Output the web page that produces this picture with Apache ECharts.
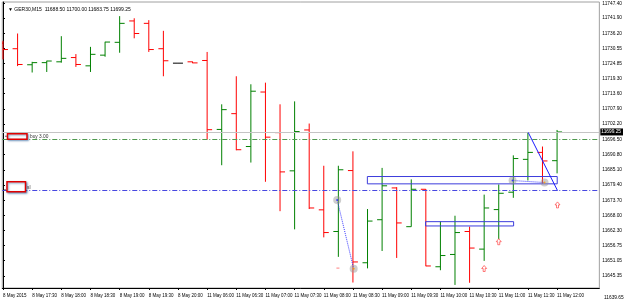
<!DOCTYPE html>
<html><head><meta charset="utf-8">
<script src="https://cdn.jsdelivr.net/npm/echarts@6/dist/echarts.min.js"></script>
<style>html,body{margin:0;padding:0;background:#fff}#c{width:625px;height:301px}</style>
</head><body><div id="c"></div>
<script>
const symbolName = 'GER30,M15';
const times = ['8 May 17:00','8 May 17:15','8 May 17:30','8 May 17:45','8 May 18:00','8 May 18:15','8 May 18:30','8 May 18:45','8 May 19:00','8 May 19:15','8 May 19:30','8 May 19:45','8 May 20:00','8 May 20:15',
 '11 May 06:00','11 May 06:15','11 May 06:30','11 May 06:45','11 May 07:00','11 May 07:15','11 May 07:30','11 May 07:45','11 May 08:00','11 May 08:15','11 May 08:30','11 May 08:45','11 May 09:00','11 May 09:15','11 May 09:30','11 May 09:45','11 May 10:00','11 May 10:15','11 May 10:30','11 May 10:45','11 May 11:00','11 May 11:15','11 May 11:30','11 May 11:45','11 May 12:00'];
const opens  = [11732.5,11730.4,11724.4,11725.2,11725.5,11727.1,11724.0,11728.0,11732.8,11740.8,11739.9,11730.4,11725.0,11725.5,11726.0,11700.2,11706.1,11693.8,11714.2,11699.0,11684.7,11700.0,11670.1,11662.0,11684.8,11650.3,11666.4,11678.3,11663.8,11677.8,11648.8,11653.4,11662.0,11655.4,11670.2,11676.7,11689.0,11691.6,11688.50];
const highs  = [11733.4,11736.1,11725.5,11725.9,11735.1,11728.4,11731.1,11733.0,11742.6,11741.8,11741.1,11737.1,11725.0,11725.6,11729.2,11709.6,11720.1,11717.1,11717.7,11709.6,11710.7,11702.4,11686.6,11686.6,11692.0,11670.4,11685.8,11678.6,11681.5,11677.9,11665.8,11667.9,11663.8,11675.8,11679.6,11690.5,11699.1,11693.8,11700.00];
const lows   = [11726.4,11723.9,11721.5,11721.7,11725.2,11723.6,11721.7,11727.4,11728.9,11734.3,11729.2,11720.1,11725.0,11725.0,11696.4,11686.8,11692.4,11687.8,11680.6,11669.6,11662.8,11670.4,11659.8,11652.5,11642.9,11648.2,11654.7,11652.1,11663.8,11649.0,11647.5,11642.0,11642.8,11651.0,11659.2,11674.6,11681.1,11679.9,11683.75];
const closes = [11730.1,11724.5,11725.2,11725.8,11726.8,11724.5,11728.3,11732.9,11739.9,11736.1,11730.1,11725.9,11725.0,11725.1,11700.1,11707.6,11692.6,11714.5,11697.3,11684.3,11699.4,11670.8,11661.6,11685.1,11650.6,11665.9,11679.1,11665.2,11677.8,11649.1,11653.0,11661.6,11655.8,11670.8,11676.3,11689.3,11691.6,11688.4,11699.25];
const xTickLabels = ['8 May 2015','8 May 17:30','8 May 18:00','8 May 18:30','8 May 19:00','8 May 19:30','8 May 20:00','11 May 06:00','11 May 06:30','11 May 07:00','11 May 07:30','11 May 08:00','11 May 08:30','11 May 09:00','11 May 09:30','11 May 10:00','11 May 10:30','11 May 11:00','11 May 11:30','11 May 12:00'];
const yTickLabels = [11747.40,11741.90,11736.20,11730.55,11724.85,11719.30,11713.60,11707.90,11702.20,11696.50,11690.80,11685.10,11679.40,11673.70,11668.00,11662.30,11656.75,11651.05,11645.35,11639.65];
const bidPrice = 11699.25;
const buyLevel = 11696.35;
const slLevel = 11677.58;
const rectZones = [[24.99,11682.57,38.01,11679.83],[28.98,11665.68,35.02,11664.07]];
const dottedA = [[22.92,11673.83],[24.05,11648.04]];
const dottedB = [[34.95,11681.07],[37.14,11680.32]];
const trendLine = [[36.02,11699.09],[38.03,11677.32]];
const arrowPts = [[38.03,11671.95],[34.0,11658.17],[33.0,11648.15]];
const dashMark = [[22.97,11648.3]];

const Y_MIN = 11640.85, Y_MAX = 11747.89;
const FONT = 'Liberation Sans';

const chart = echarts.init(document.getElementById('c'), null, {renderer:'canvas'});
const barData = times.map((t,i)=>[i, opens[i], highs[i], lows[i], closes[i]]);
const xTickIdx = xTickLabels.map((_,k)=>k*2);
const yInRange = yTickLabels.filter(v => v >= Y_MIN && v <= Y_MAX);

function renderBar(params, api){
  const i = api.value(0), o = api.value(1), h = api.value(2), l = api.value(3), c = api.value(4);
  const po = api.coord([i,o]), ph = api.coord([i,h]), pl = api.coord([i,l]), pc = api.coord([i,c]);
  const color = c > o ? '#008000' : (c < o ? '#ff0000' : '#000000');
  const x = po[0], t = 5;
  const style = {stroke: color, lineWidth: 1};
  const ch = [];
  if (h !== l) ch.push({type:'line', shape:{x1:x,y1:ph[1],x2:x,y2:pl[1]}, style});
  ch.push({type:'line', shape:{x1:x-t,y1:po[1],x2:x,y2:po[1]}, style});
  ch.push({type:'line', shape:{x1:x,y1:pc[1],x2:x+t,y2:pc[1]}, style});
  return {type:'group', children: ch};
}
function renderRect(params, api){
  const p1 = api.coord([api.value(0), api.value(1)]);
  const p2 = api.coord([api.value(2), api.value(3)]);
  return {type:'rect', shape:{x:p1[0], y:p1[1], width:p2[0]-p1[0], height:p2[1]-p1[1]},
    style:{fill:'none', stroke:'#3c3cdc', lineWidth:1}};
}

const last = times.length - 1;
chart.setOption({
  animation:false,
  title:{text:'\u25BC ' + symbolName + '  ' + opens[last].toFixed(2) + ' ' + highs[last].toFixed(2) + ' ' + lows[last].toFixed(2) + ' ' + closes[last].toFixed(2),
    left:3, top:2, textStyle:{fontSize:5, fontWeight:'normal', color:'#000', fontFamily:FONT}},
  grid:{left:2, top:2, right:24, bottom:13, show:true, borderColor:'#a0a0a0', borderWidth:1, backgroundColor:'#fff'},
  xAxis:{type:'value', min:-0.05, max:40.9,
    axisLine:{show:true, lineStyle:{color:'#000'}},
    axisTick:{show:true, customValues:xTickIdx, length:2, lineStyle:{color:'#000'}},
    axisLabel:{customValues:xTickIdx, formatter:v=>xTickLabels[Math.round(v/2)], align:'left', fontSize:4.5, margin:5, color:'#000', fontFamily:FONT},
    splitLine:{show:false}},
  yAxis:{type:'value', position:'right', min:Y_MIN, max:Y_MAX,
    axisLine:{show:true, lineStyle:{color:'#000'}},
    axisTick:{show:true, customValues:yInRange, length:2, lineStyle:{color:'#000'}},
    axisLabel:{customValues:yInRange, formatter:v=>v.toFixed(2), fontSize:4.8, margin:3, color:'#000', fontFamily:FONT},
    splitLine:{show:false}},
  series:[
    {type:'line', data:[], z:1, markLine:{silent:true, symbol:['none','none'], animation:false,
      data:[
        {yAxis:bidPrice, lineStyle:{color:'#c4c4c4', type:'solid', width:1},
          label:{show:true, position:'end', distance:1, formatter:bidPrice.toFixed(2), backgroundColor:'#000', color:'#fff', fontSize:4.8, padding:[1,2,1,1], fontFamily:FONT}},
        {yAxis:buyLevel, lineStyle:{color:'#4f9a4f', type:[5,2,1,2], width:1}, label:{show:false}},
        {yAxis:slLevel, lineStyle:{color:'#4848e0', type:[5,2,1,2], width:1}, label:{show:false}}
      ]}},
    {type:'custom', renderItem:renderBar, data:barData, encode:{x:0, y:[1,2,3,4]}, clip:true, z:3},
    {type:'custom', renderItem:renderRect, data:rectZones, encode:{x:[0,2], y:[1,3]}, clip:true, z:4},
    {type:'line', data:dottedA, symbol:'none', lineStyle:{color:'#3a3aff', type:'dotted', width:1}, z:5},
    {type:'line', data:dottedB, symbol:'none', lineStyle:{color:'#3a3aff', type:'dotted', width:1}, z:5},
    {type:'line', data:trendLine, symbol:'none', lineStyle:{color:'#1a1aff', type:'solid', width:1}, z:5},
    {type:'scatter', data:[dottedA[0],dottedA[1],dottedB[0],dottedB[1]], symbol:'circle', symbolSize:8, itemStyle:{color:'rgba(150,150,150,0.6)'}, z:6},
    {type:'scatter', data:[
        {value:dottedA[0], itemStyle:{color:'#2020ff'}},
        {value:dottedA[1], itemStyle:{color:'#ff9900'}},
        {value:dottedB[0], itemStyle:{color:'#2020ff'}},
        {value:dottedB[1], itemStyle:{color:'#ff9900'}}], symbol:'circle', symbolSize:2, z:7},
    {type:'scatter', data:arrowPts, symbol:'path://M5 0L10 5L7 5L7 10L3 10L3 5L0 5Z', symbolSize:[5,6],
      itemStyle:{color:'#fff', borderColor:'#ff3030', borderWidth:0.8}, z:6},
    {type:'scatter', data:dashMark, symbol:'rect', symbolSize:[3,1], itemStyle:{color:'#ff6060'}, z:6}
  ]
});

const yBuy = chart.convertToPixel({gridIndex:0}, [0, buyLevel])[1];
const ySl = chart.convertToPixel({gridIndex:0}, [0, slLevel])[1];
const yLow = chart.convertToPixel({gridIndex:0}, [0, Y_MIN])[1];
chart.setOption({graphic:[
  {type:'rect', shape:{x:7.5, y:yBuy-6, width:19.5, height:5.5}, style:{fill:'#fff', stroke:'#e00000', lineWidth:1.5, shadowBlur:2, shadowColor:'rgba(0,70,140,0.5)', shadowOffsetX:1, shadowOffsetY:1}, z:10},
  {type:'text', x:30, y:yBuy-3.3, style:{text:'buy 3.00', fontSize:4.8, fill:'#333', fontFamily:FONT, verticalAlign:'middle'}, z:10},
  {type:'circle', shape:{cx:6, cy:yBuy-3.5, r:0.8}, style:{fill:'#555'}, z:10},
  {type:'rect', shape:{x:7, y:ySl-8, width:18.5, height:10}, style:{fill:'#fff', stroke:'#e00000', lineWidth:1.5, shadowBlur:2, shadowColor:'rgba(0,70,140,0.5)', shadowOffsetX:1, shadowOffsetY:1}, z:10},
  {type:'text', x:27, y:ySl-1.8, style:{text:'sl', fontSize:4.8, fill:'#333', fontFamily:FONT, verticalAlign:'middle'}, z:10},
  {type:'circle', shape:{cx:5, cy:ySl, r:0.8}, style:{fill:'#555'}, z:10},
  {type:'text', x:604, y:yLow+10, style:{text:yTickLabels[yTickLabels.length-1].toFixed(2), fontSize:4.8, fill:'#000', fontFamily:FONT, verticalAlign:'middle'}, z:10}
]});
</script></body></html>
